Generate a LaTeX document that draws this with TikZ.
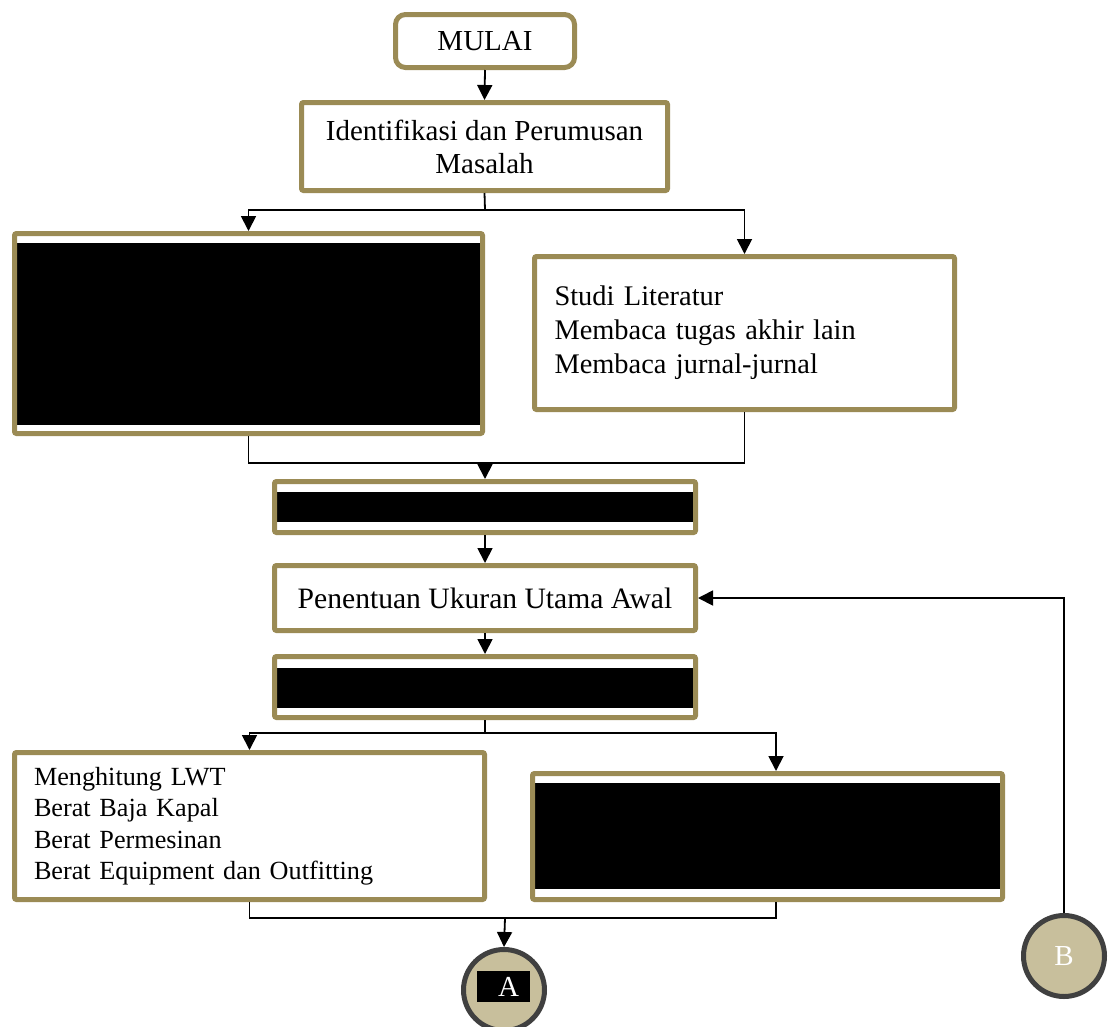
\documentclass[tikz,border=0pt]{standalone}
\usepackage{fontspec}
\setmainfont{Liberation Serif}
\usetikzlibrary{arrows.meta,calc}
\definecolor{boxolive}{RGB}{155,139,85}
\definecolor{circgray}{RGB}{64,64,64}
\definecolor{circfill}{RGB}{200,191,156}
\begin{document}
\begin{tikzpicture}[x=1pt,y=-1pt,
  box/.style={draw=boxolive, line width=5pt, rounded corners=2pt, inner sep=0pt,
    font=\fontsize{29}{33}\selectfont, align=center},
  arr/.style={line width=1.8pt, -{Triangle[length=15pt,width=15pt]}},
  ln/.style={line width=1.8pt},
  circ/.style={circle, draw=circgray, fill=circfill, line width=5pt, minimum size=81pt,
    inner sep=0pt, text=white, font=\fontsize{29}{33}\selectfont}]
\useasboundingbox (0,0) rectangle (1111,1026);
% redacted black areas (drawn first, borders over them)
\fill[black] (15,243) rectangle (482,425);
\fill[black] (275,492) rectangle (695,522);
\fill[black] (275,668) rectangle (695,708);
\fill[black] (533,783) rectangle (1002,889);
% boxes
\node[box, rounded corners=10pt, minimum width=179pt, minimum height=53pt] (mulai) at (485,41) {MULAI};
\node[box, minimum width=366pt, minimum height=88pt] (ident) at (484.5,146.5) {Identifikasi dan Perumusan\\Masalah};
\node[box, minimum width=468pt, minimum height=200pt] (blackL) at (248.5,333.5) {};
\node[box, text width=380pt, inner xsep=20pt, minimum height=153pt, align=left,
  font=\fontsize{28.4}{34}\selectfont] (lit) at (744.5,333)
  {Studi Literatur\\Membaca tugas akhir lain\\Membaca jurnal-jurnal};
\node[box, minimum width=421pt, minimum height=51pt] (box3) at (485,507) {};
\node[box, minimum width=421pt, minimum height=65pt, font=\fontsize{29.6}{33}\selectfont] (ukuran) at (485,598) {Penentuan Ukuran Utama Awal};
\node[box, minimum width=421pt, minimum height=61pt] (box5) at (485,687) {};
\node[box, text width=431pt, inner xsep=19.5pt, minimum height=147pt, align=left,
  font=\fontsize{26.2}{31.5}\selectfont] (lwt) at (249.5,826)
  {Menghitung LWT\\Berat Baja Kapal\\Berat Permesinan\\Berat Equipment dan Outfitting};
\node[box, minimum width=470pt, minimum height=126pt] (box7) at (767.5,836.5) {};
% connectors
\coordinate (j1) at (485,210);
\coordinate (j2) at (485,463);
\coordinate (j3) at (485,733);
\coordinate (j4) at (505,918);
\draw[arr] (mulai.south) -- (ident.north);
\draw[ln] (ident.south) -- (j1);
\draw[arr] (j1) -| (blackL.north);
\draw[arr] (j1) -| (lit.north);
\draw[ln] (blackL.south) |- (j2);
\draw[ln] (lit.south) |- (j2);
\draw[arr] (j2) -- (box3.north);
\draw[arr] (box3.south) -- (ukuran.north);
\draw[arr] (ukuran.south) -- (box5.north);
\draw[ln] (box5.south) -- (j3);
\draw[arr] (j3) -| (lwt.north);
\draw[arr] (j3) -| ([xshift=8.5pt]box7.north);
\draw[ln] (lwt.south) |- (j4);
\draw[ln] ([xshift=8.5pt]box7.south) |- (j4);
% circles
\node[circ] (A) at (504,990) {};
\node[fill=black, text=white, minimum width=53pt, minimum height=31pt, inner sep=0pt,
  font=\fontsize{29}{33}\selectfont] (Alab) at (503.5,986.5) {\hspace{10pt}A};
\draw[arr] (j4) -- (A.north);
\node[circ] (B) at (1064,956) {B};
\draw[arr] (B.north) |- (ukuran.east);
\end{tikzpicture}
\end{document}
